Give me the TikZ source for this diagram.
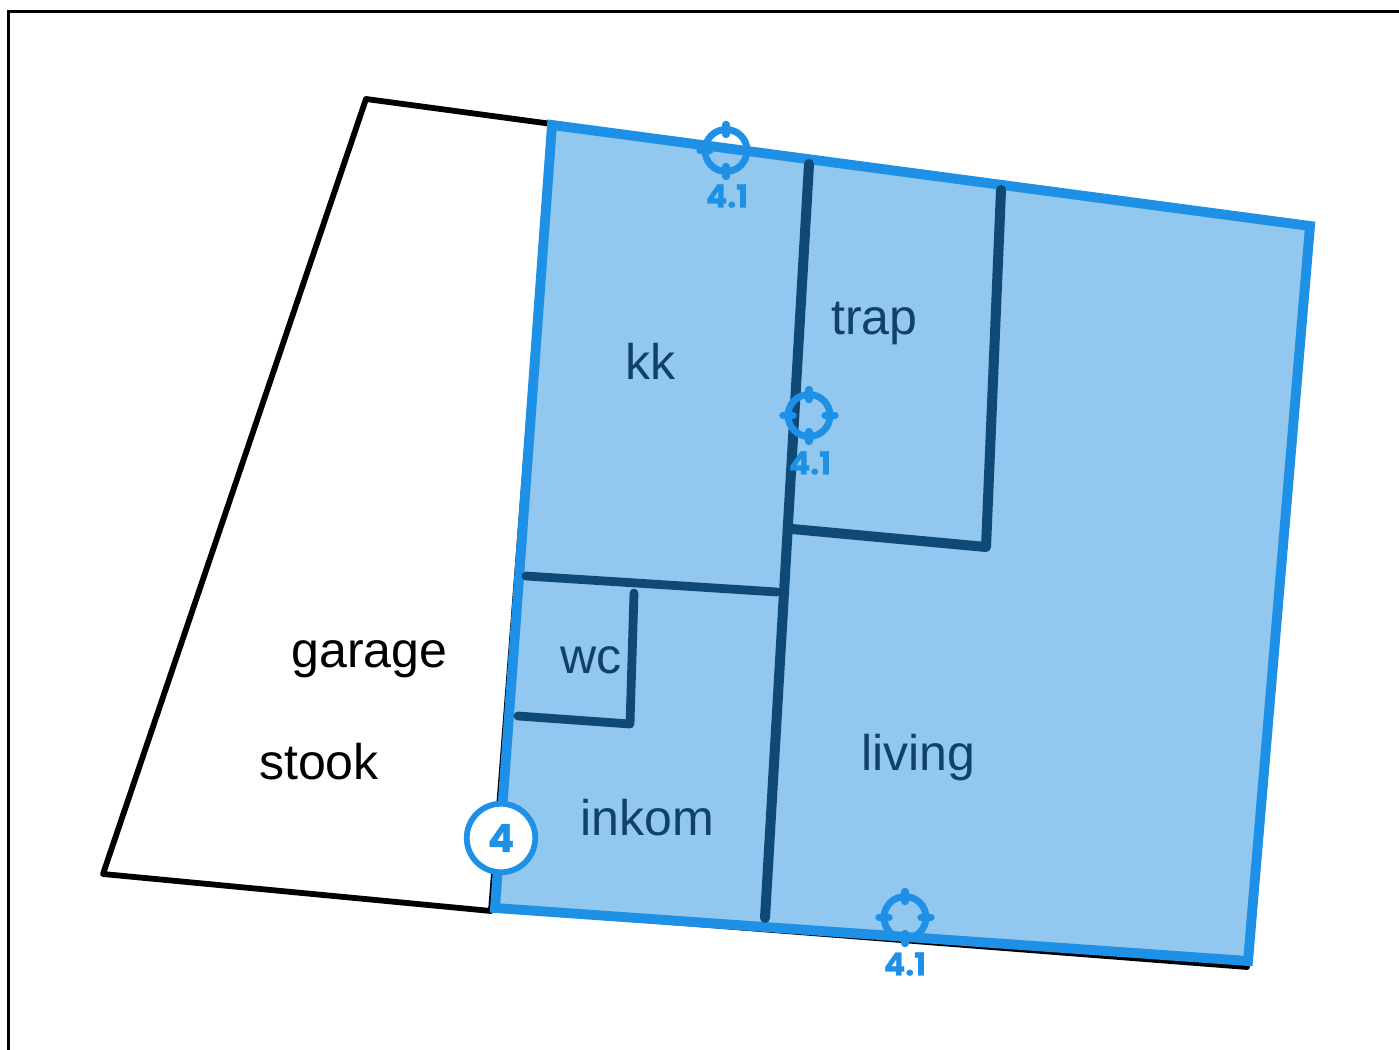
\documentclass[tikz,border=0pt]{standalone}
\usepackage{fontspec}
\setmainfont{Liberation Sans}
\newfontfamily\tagfont[FakeBold=0.9]{Poppins Bold}
\definecolor{zoneblue}{HTML}{1E90E6}
\definecolor{zonefill}{HTML}{92C7EF}
\definecolor{wallblue}{HTML}{0E4A75}
\definecolor{roomtext}{HTML}{0F426B}
\tikzset{
  px/.style={x=0.02cm,y=-0.02cm},
  frameline/.style={draw=black,line width=1.6pt},
  outline/.style={draw=black,line width=3.3pt,line join=round,line cap=round},
  zone/.style={draw=zoneblue,fill=zonefill,line width=5.6pt,line join=miter},
  wall/.style={draw=wallblue,line width=5.7pt,line cap=round,line join=round},
  wallthin/.style={draw=wallblue,line width=5pt,line cap=round,line join=round},
  roomlabel/.style={text=roomtext,font=\fontsize{28.5pt}{30pt}\selectfont,inner sep=0pt},
  blacklabel/.style={text=black,font=\fontsize{28.5pt}{30pt}\selectfont,inner sep=0pt},
  ring/.style={draw=zoneblue,line width=3.9pt},
  tick/.style={draw=zoneblue,line width=4.2pt,line cap=round},
  taglabel/.style={text=zoneblue,font=\tagfont\fontsize{18pt}{19pt}\selectfont,inner sep=0pt},
  badge/.style={circle,draw=zoneblue,fill=white,line width=3.3pt,minimum size=39pt,inner sep=0pt,text=zoneblue,font=\tagfont\fontsize{22pt}{23pt}\selectfont},
}
\newcommand{\target}[2]{%
  \begin{scope}[shift={(#1,#2)}]
    \draw[ring] (0,0) circle (21);
    \draw[tick] (-26,0) -- (-16,0) (16,0) -- (26,0) (0,-26) -- (0,-16) (0,16) -- (0,26);
  \end{scope}}
\begin{document}
\begin{tikzpicture}[px]
\useasboundingbox (0,0) rectangle (1399,1050);
\fill[white] (0,0) rectangle (1399,1050);
\draw[frameline] (8.5,1052) -- (8.5,11.5) -- (1401,11.5);
\draw[outline] (552,124) -- (366,99) -- (103,874) -- (491,911) -- (552,124);
\draw[outline] (491,908) -- (1247,967);
\draw[zone] (552,125) -- (1310,226) -- (1248,961) -- (495,908) -- cycle;
\draw[wall] (809,164) -- (765,918);
\draw[wall] (1001,190) -- (986,547) -- (792,529);
\draw[wallthin] (526,576) -- (777,592);
\draw[wallthin] (634,593) -- (630,724) -- (518,716);
\node[roomlabel] (kk) at (650.5,361) {kk};
\node[roomlabel] (trap) at (874.5,324) {trap};
\node[roomlabel] (wc) at (591,660) {wc};
\node[roomlabel] (inkom) at (647,818) {inkom};
\node[roomlabel] (living) at (918.5,758) {living};
\node[blacklabel] (garage) at (369.5,659) {garage};
\node[blacklabel] (stook) at (319,762) {stook};
\target{726}{150.5}
\target{809}{415.5}
\target{905}{917.5}
\node[taglabel] (t1) at (727,196) {4.1};
\node[taglabel] (t2) at (810,463) {4.1};
\node[taglabel] (t3) at (905,964) {4.1};
\node[badge] (b) at (501,838) {4};
\end{tikzpicture}
\end{document}
